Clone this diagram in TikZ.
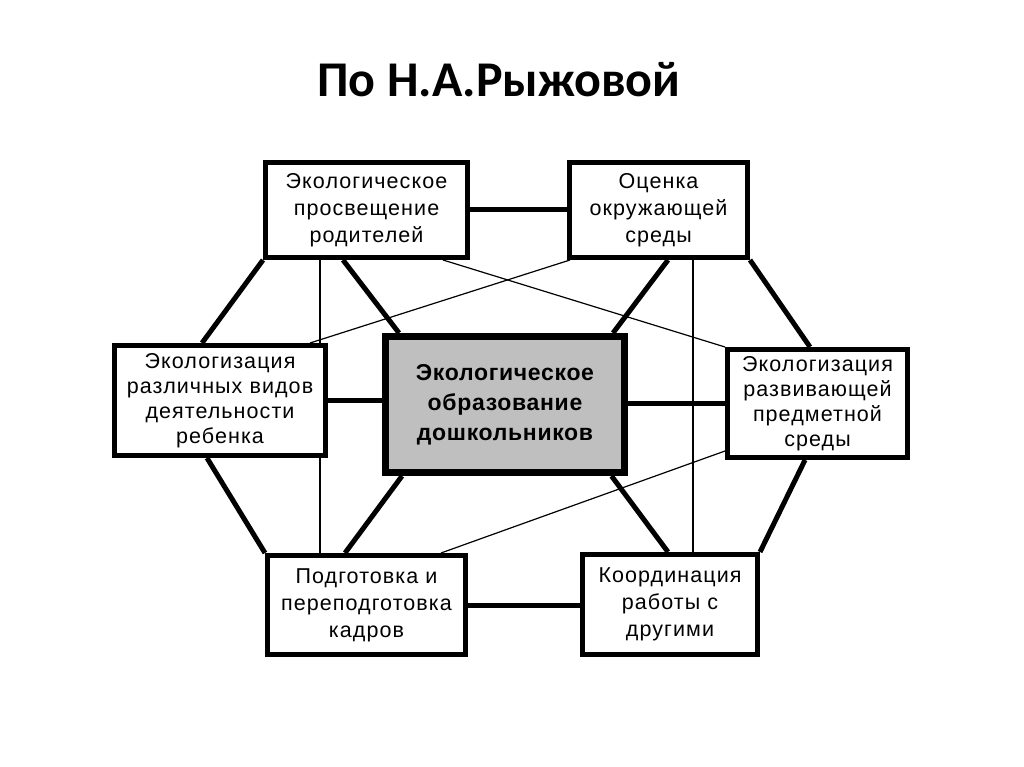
\documentclass[tikz,border=0pt]{standalone}
\usepackage{fontspec}
\setmainfont{Liberation Sans}
\newfontfamily\boxfont[LetterSpace=5]{Liberation Sans}
\newfontfamily\mainfont[LetterSpace=3]{Liberation Sans}
\newfontfamily\titlefont{Carlito}
\usepackage{tikz}
\usetikzlibrary{positioning, backgrounds}

\begin{document}
\begin{tikzpicture}[x=1pt, y=-1pt,
  box/.style={draw, fill=white, line width=5pt, align=center,
              inner sep=0pt, font=\boxfont\fontsize{21.5pt}{27pt}\selectfont},
  tallbox/.style={box, font=\boxfont\fontsize{21.5pt}{25pt}\selectfont},
  mainbox/.style={draw, fill=black!25, line width=7pt, align=center,
              inner sep=0pt, font=\mainfont\fontsize{23pt}{30pt}\selectfont\bfseries},
  link/.style={line width=5pt},
  thinlink/.style={line width=1.2pt}
]
  \useasboundingbox (0,0) rectangle (1024,767);

  \node[font=\titlefont\fontsize{50pt}{54pt}\selectfont\bfseries] (title) at (499,80) {По Н.А.Рыжовой};

  % boxes
  \node[box, minimum width=202pt, minimum height=95pt]  (tl)  at (366.5,210) {Экологическое\\просвещение\\родителей};
  \node[box, minimum width=178pt, minimum height=95pt]  (tr)  at (658.5,210) {Оценка\\окружающей\\среды};
  \node[tallbox, minimum width=211pt, minimum height=110pt] (ml)  at (220,400.5) {Экологизация\\различных видов\\деятельности\\ребенка};
  \node[mainbox, minimum width=239pt, minimum height=136pt] (cen) at (505,404.5) {Экологическое\\образование\\дошкольников};
  \node[tallbox, minimum width=180pt, minimum height=108pt] (mr)  at (817.5,403.5) {Экологизация\\развивающей\\предметной\\среды};
  \node[box, minimum width=198pt, minimum height=99pt]  (bl)  at (366.5,605) {Подготовка и\\переподготовка\\кадров};
  \node[box, minimum width=175pt, minimum height=100pt] (br)  at (670,604.5) {Координация\\работы с\\другими};

  \begin{scope}[on background layer]
    % thin links
    \draw[thinlink] ([xshift=-46.5pt]tl.south) -- ([xshift=-46.5pt]bl.north);
    \draw[thinlink] ([xshift=34.5pt]tr.south) -- ([xshift=23pt]br.north);
    \draw[thinlink] ([xshift=3pt]tr.south west) -- ([xshift=-18pt]ml.north east);
    \draw[thinlink] ([xshift=-27pt]tl.south east) -- (mr.north west);
    \draw[thinlink] ([yshift=9pt]mr.south west) -- ([xshift=-27pt]bl.north east);

    % thick links
    \draw[link] (tl) -- (tr);
    \draw[link] (tl.south west) -- ([xshift=-18pt]ml.north);
    \draw[link] ([xshift=-23.5pt]tl.south) -- ([xshift=17pt]cen.north west);
    \draw[link] ([xshift=9.5pt]tr.south) -- ([xshift=-15pt]cen.north east);
    \draw[link] (tr.south east) -- ([xshift=-7.5pt]mr.north);
    \draw[link] (ml.east) -- (ml.east -| cen.west);
    \draw[link] (mr.west -| cen.east) -- (mr.west);
    \draw[link] ([xshift=-13pt]ml.south) -- (bl.north west);
    \draw[link] ([xshift=20pt]cen.south west) -- ([xshift=-21.5pt]bl.north);
    \draw[link] ([xshift=-16.5pt]cen.south east) -- ([xshift=-2pt]br.north);
    \draw[link] ([xshift=-12.5pt]mr.south) -- (br.north east);
    \draw[link] (bl.east) -- (bl.east -| br.west);
  \end{scope}
\end{tikzpicture}
\end{document}
